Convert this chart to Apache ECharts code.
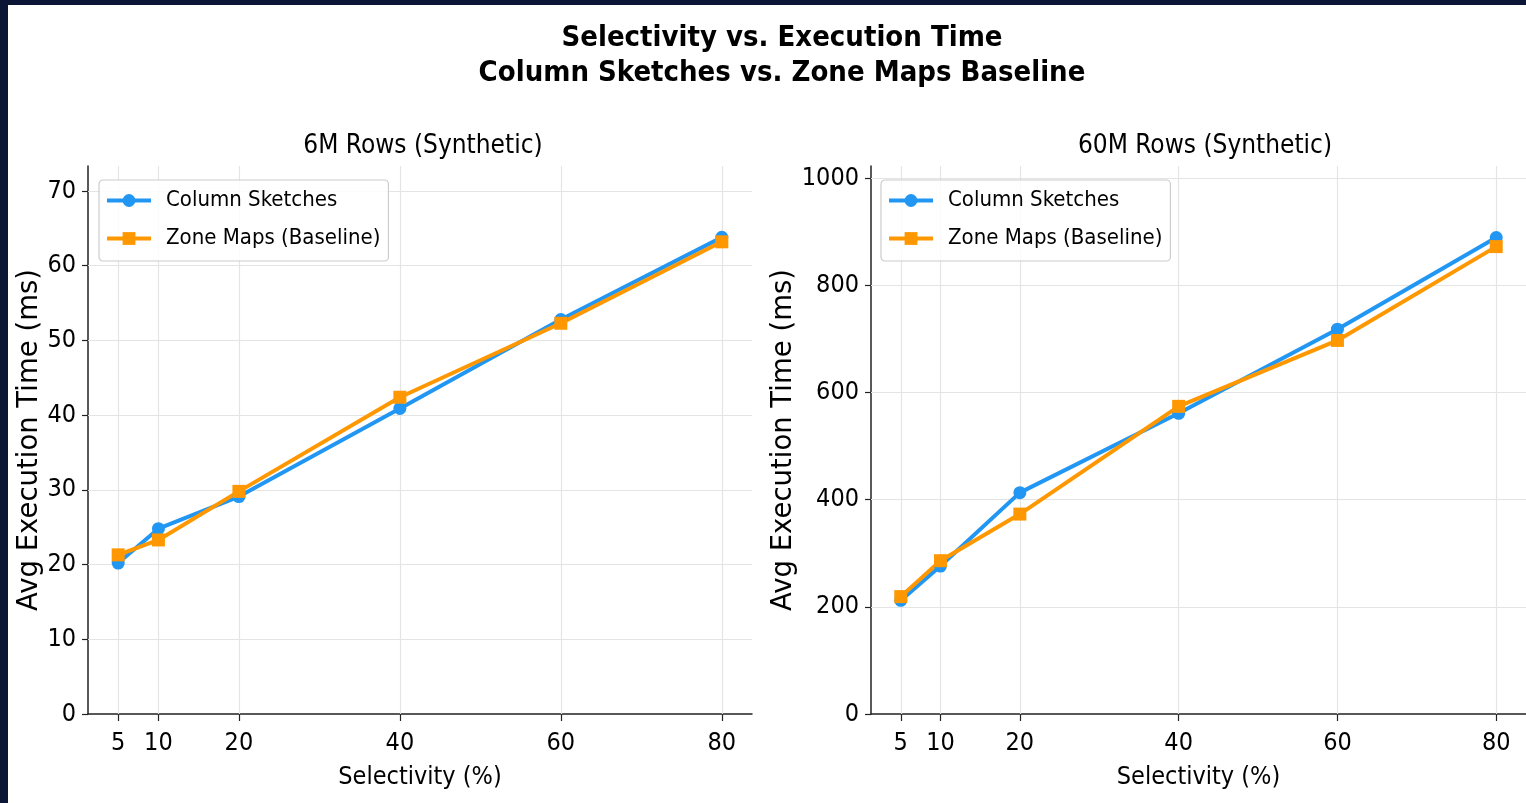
<!DOCTYPE html>
<html>
<head>
<meta charset="utf-8">
<script src="https://cdn.jsdelivr.net/npm/echarts@6/dist/echarts.min.js"></script>
<style>
html,body{margin:0;padding:0;background:#0b1636;width:1526px;height:803px;overflow:hidden;}
#chart{position:absolute;left:8px;top:5px;width:1518px;height:798px;background:#ffffff;}
</style>
</head>
<body>
<div id="chart"></div>
<script>
// ---- data ----
const selectivity = [5, 10, 20, 40, 60, 80];
const sketch6M  = [20.2, 24.8, 29.1, 40.9, 52.8, 63.8];
const zone6M    = [21.3, 23.3, 29.8, 42.4, 52.3, 63.2];
const sketch60M = [212, 276, 413, 561, 718, 889];
const zone60M   = [219, 286, 373, 574, 697, 872];
const xTicks = [5, 10, 20, 40, 60, 80];
const yTicks6M = [0, 10, 20, 30, 40, 50, 60, 70];
const yTicks60M = [0, 200, 400, 600, 800, 1000];
const seriesNames = ['Column Sketches', 'Zone Maps (Baseline)'];
const titleMain = 'Selectivity vs. Execution Time\nColumn Sketches vs. Zone Maps Baseline';
const subTitles = ['6M Rows (Synthetic)', '60M Rows (Synthetic)'];
const xName = 'Selectivity (%)';
const yName = 'Avg Execution Time (ms)';

const BLUE = '#2196F3', ORANGE = '#FF9800';
const COND = '"DejaVu Sans Condensed", "DejaVu Sans", sans-serif';
const SANS = '"DejaVu Sans", sans-serif';
const TXT = '#000000';

const chart = echarts.init(document.getElementById('chart'));

function pairs(xs, ys) { return xs.map((x, i) => [x, ys[i]]); }
const plain = v => String(v);

function xAxisOpt(gi) {
  return {
    type: 'value', gridIndex: gi, min: 1.25, max: 83.75,
    name: xName, nameLocation: 'middle', nameGap: 51,
    nameTextStyle: { fontFamily: COND, fontSize: 25, color: TXT },
    axisLine: { show: true, onZero: false, lineStyle: { color: '#222', width: 1.5 } },
    axisTick: { show: true, inside: false, length: 7, customValues: xTicks, lineStyle: { color: '#222', width: 1.2 } },
    axisLabel: { customValues: xTicks, formatter: plain, margin: 17, fontFamily: COND, fontSize: 25, color: TXT },
    splitLine: { show: false }
  };
}
function yAxisOpt(gi, max, ticks, gap) {
  return {
    type: 'value', gridIndex: gi, min: 0, max: max,
    name: yName, nameLocation: 'middle', nameGap: gap,
    nameTextStyle: { fontFamily: SANS, fontSize: 27.5, color: TXT },
    axisLine: { show: true, lineStyle: { color: '#222', width: 1.5 } },
    axisTick: { show: true, inside: false, length: 6, customValues: ticks, lineStyle: { color: '#222', width: 1.2 } },
    axisLabel: { customValues: ticks, formatter: plain, margin: 12, fontFamily: COND, fontSize: 25, color: TXT },
    splitLine: { show: false }
  };
}
function gridSeries(gi, yTicks) {
  return {
    type: 'line', xAxisIndex: gi, yAxisIndex: gi, data: [], silent: true, z: 1,
    markLine: {
      silent: true, z: 1, symbol: ['none', 'none'], label: { show: false },
      lineStyle: { color: '#e4e4e4', width: 1.2, type: 'solid' },
      emphasis: { disabled: true },
      data: xTicks.map(v => ({ xAxis: v })).concat(yTicks.filter(v => v > 0).map(v => ({ yAxis: v })))
    }
  };
}
function dataSeries(gi, name, ys, color, symbol, size) {
  return {
    name: name, type: 'line', xAxisIndex: gi, yAxisIndex: gi, z: 3,
    data: pairs(selectivity, ys),
    symbol: symbol, symbolSize: size, showSymbol: true,
    lineStyle: { color: color, width: 4 },
    itemStyle: { color: color, borderWidth: 0 },
    emphasis: { disabled: true }
  };
}
function legendOpt(left) {
  return {
    left: left, top: 175, orient: 'vertical', z: 10,
    data: seriesNames,
    itemWidth: 44, itemHeight: 16, itemGap: 13,
    padding: [8, 8, 10, 6],
    borderColor: '#cccccc', borderWidth: 1.2, borderRadius: 4,
    backgroundColor: 'rgba(255,255,255,0.85)',
    lineStyle: { width: 4 },
    textStyle: { fontFamily: COND, fontSize: 22, color: TXT, lineHeight: 25, padding: [0, 0, 0, 10] },
    selectedMode: false
  };
}

const option = {
  animation: false,
  backgroundColor: '#ffffff',
  title: [
    { text: titleMain, left: 769, top: 11, textAlign: 'center',
      textStyle: { fontFamily: COND, fontWeight: 'bold', fontSize: 29, lineHeight: 35, color: '#000' } },
    { text: subTitles[0], left: 410, top: 122, textAlign: 'center',
      textStyle: { fontFamily: COND, fontWeight: 'normal', fontSize: 26, lineHeight: 28, color: TXT } },
    { text: subTitles[1], left: 1192, top: 122, textAlign: 'center',
      textStyle: { fontFamily: COND, fontWeight: 'normal', fontSize: 26, lineHeight: 28, color: TXT } }
  ],
  legend: [legendOpt(91), legendOpt(873)],
  grid: [
    { left: 80, top: 161, width: 664, height: 548, containLabel: false },
    { left: 863, top: 161, width: 663, height: 548, containLabel: false }
  ],
  xAxis: [xAxisOpt(0), xAxisOpt(1)],
  yAxis: [yAxisOpt(0, 73.35, yTicks6M, 44), yAxisOpt(1, 1022.4, yTicks60M, 65)],
  series: [
    gridSeries(0, yTicks6M),
    gridSeries(1, yTicks60M),
    dataSeries(0, seriesNames[0], sketch6M, BLUE, 'circle', 13),
    dataSeries(0, seriesNames[1], zone6M, ORANGE, 'rect', 13),
    dataSeries(1, seriesNames[0], sketch60M, BLUE, 'circle', 13),
    dataSeries(1, seriesNames[1], zone60M, ORANGE, 'rect', 13)
  ]
};
chart.setOption(option);
</script>
</body>
</html>
